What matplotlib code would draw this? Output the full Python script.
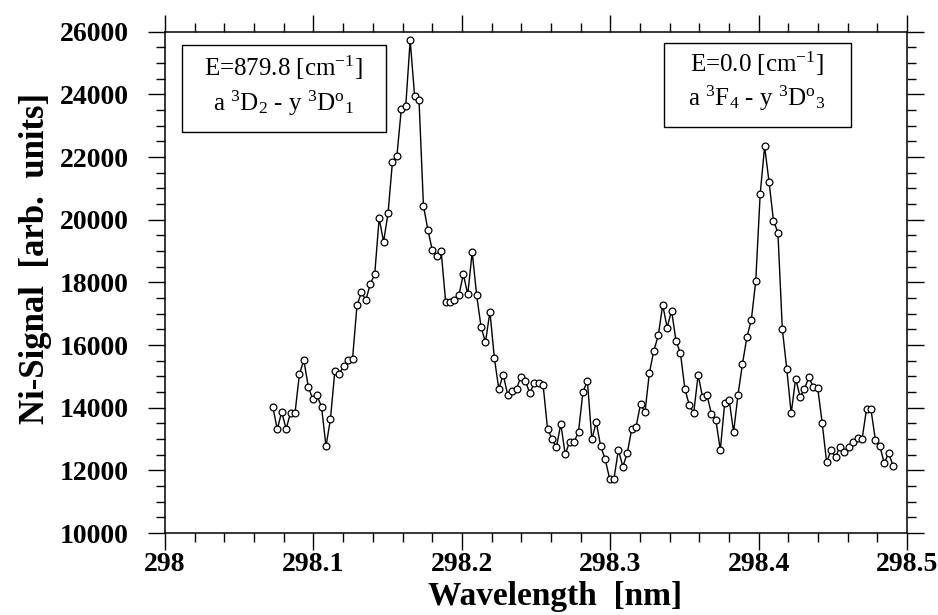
import numpy as np
import matplotlib
matplotlib.use("Agg")
import matplotlib.pyplot as plt
from matplotlib.patches import Rectangle
from matplotlib.ticker import MultipleLocator

plt.rcParams['font.family'] = ['Liberation Serif', 'DejaVu Serif']
plt.rcParams['mathtext.fontset'] = 'custom'
plt.rcParams['mathtext.rm'] = 'Liberation Serif'
plt.rcParams['mathtext.default'] = 'regular'

# scan range (uniform wavelength step)
scan_start = 298.0726
scan_end = 298.4906

signal = [14030, 13310, 13870, 13320, 13840, 13820, 15070, 15520, 14670, 14280,
          14390, 14020, 12770, 13630, 15170, 15080, 15330, 15520, 15570, 17270,
          17680, 17440, 17950, 18260, 20050, 19300, 20200, 21850, 22030, 23530,
          23620, 25730, 23960, 23810, 20440, 19680, 19020, 18830, 18990, 17390,
          17360, 17440, 17590, 18260, 17620, 18970, 17600, 16580, 16090, 17070,
          15590, 14600, 15050, 14420, 14540, 14610, 14990, 14860, 14460, 14790,
          14800, 14730, 13330, 13010, 12740, 13480, 12510, 12920, 12900, 13240,
          14500, 14860, 12990, 13540, 12770, 12370, 11740, 11730, 12660, 12120,
          12550, 13310, 13400, 14120, 13860, 15120, 15820, 16310, 17280, 16560,
          17100, 16130, 15740, 14610, 14080, 13840, 15050, 14330, 14400, 13800,
          13610, 12650, 14160, 14250, 13220, 14420, 15400, 16250, 16800, 18050,
          20820, 22340, 21210, 19970, 19590, 16510, 15240, 13820, 14930, 14350,
          14600, 14980, 14650, 14620, 13500, 12260, 12650, 12420, 12760, 12600,
          12730, 12900, 13040, 13000, 13950, 13950, 12970, 12780, 12230, 12550,
          12140]

xtick_labels = ['298', '298.1', '298.2', '298.3', '298.4', '298.5']

wavelength = np.linspace(scan_start, scan_end, len(signal))

fig = plt.figure(figsize=(9.38, 6.15), dpi=100)
ax = fig.add_axes([0.176, 0.1333, 0.791, 0.815])

ax.plot(wavelength, signal, '-', color='black', lw=1.0, marker='o',
        ms=4.9, mfc='white', mec='black', mew=0.9)

ax.set_xlim(298, 298.5)
ax.set_ylim(10000, 26000)
ax.set_xticks([298 + 0.1 * i for i in range(len(xtick_labels))])
ax.set_xticklabels(xtick_labels)
ax.xaxis.set_minor_locator(MultipleLocator(0.02))
ax.yaxis.set_major_locator(MultipleLocator(2000))
ax.yaxis.set_minor_locator(MultipleLocator(500))

ax.tick_params(which='both', direction='out', top=True, right=True,
               labeltop=False, labelright=False, width=1.0)
ax.tick_params(which='major', length=12, labelsize=20)
ax.tick_params(axis='y', which='major', pad=14)
ax.tick_params(axis='x', which='major', pad=2)
ax.tick_params(which='minor', length=6.5)
for lab in ax.get_xticklabels() + ax.get_yticklabels():
    lab.set_fontweight('bold')
for s in ax.spines.values():
    s.set_linewidth(1.1)

ax.set_xlabel('Wavelength  [nm]', fontsize=24, fontweight='bold', va='top')
ax.xaxis.set_label_coords(0.525, -0.095)
ax.set_ylabel('Ni-Signal  [arb.  units]', fontsize=25, fontweight='bold')
ax.yaxis.set_label_coords(-0.152, 0.548)

# annotation boxes
ax.add_patch(Rectangle((0.0229, 0.8004), 0.2749, 0.1736, transform=ax.transAxes,
                       fill=False, ec='black', lw=1.0))
ax.text(0.160, 0.928, r'E=879.8 [cm$^{-1}$]', transform=ax.transAxes,
        ha='center', va='center', fontsize=18)
ax.text(0.160, 0.858, r'a $^{3}$D$_{2}$ - y $^{3}$D$^{o}$$_{1}$', transform=ax.transAxes,
        ha='center', va='center', fontsize=18)

ax.add_patch(Rectangle((0.6725, 0.81), 0.252, 0.168, transform=ax.transAxes,
                       fill=False, ec='black', lw=1.0))
ax.text(0.798, 0.936, r'E=0.0 [cm$^{-1}$]', transform=ax.transAxes,
        ha='center', va='center', fontsize=18)
ax.text(0.798, 0.868, r'a $^{3}$F$_{4}$ - y $^{3}$D$^{o}$$_{3}$', transform=ax.transAxes,
        ha='center', va='center', fontsize=18)

fig.savefig('out.png', dpi=100)
